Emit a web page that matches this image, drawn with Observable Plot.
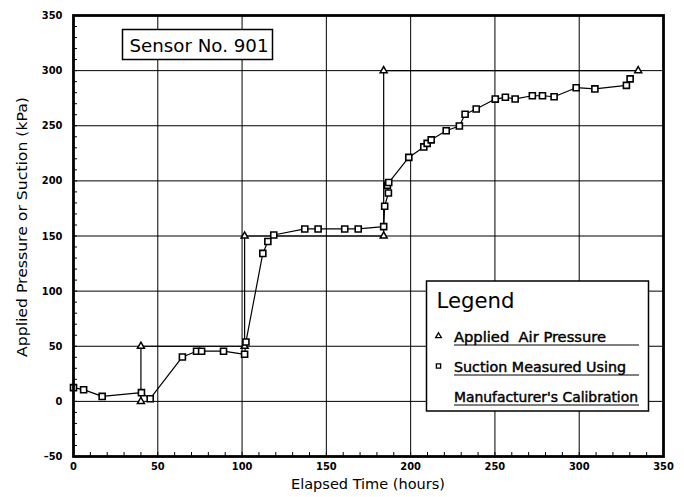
<!DOCTYPE html>
<html>
<head>
<meta charset="utf-8">
<script src="https://cdn.jsdelivr.net/npm/d3@7"></script>
<script src="https://cdn.jsdelivr.net/npm/@observablehq/plot@0.6"></script>
<style>
  body { margin: 0; background: #fff; }
  #chart { width: 684px; height: 497px; }
  #chart g[aria-label="x-axis tick label"] text,
  #chart g[aria-label="y-axis tick label"] text { font-weight: bold; }
</style>
</head>
<body>
<div id="chart"></div>
<script>
// ---- data ----
const suctionTime = [0, 6, 17, 40.3, 45.5, 64.6, 73, 76, 89, 101.5, 102.3, 112.3, 115.3, 118.8,
  137.2, 145.1, 160.9, 168.9, 184, 184.6, 186.8, 186.2, 187, 198.9, 207.8, 209.8, 212.2, 221.1,
  228.9, 232.3, 238.9, 250.2, 256.2, 262, 272.2, 278.2, 285.1, 298.2, 309.3, 328, 330.2];
const suctionKPa = [12.5, 10.6, 4.5, 7.9, 2.4, 40.3, 45.5, 45.5, 45.5, 42.7, 53.9, 134.2, 145, 150.9,
  156.4, 156.4, 156.4, 156.4, 158.5, 177, 189, 196, 198.5, 221.3, 230.8, 234, 237.2, 245.5,
  249.8, 260.4, 265.2, 274.2, 275.8, 274.3, 277.2, 277.2, 276.3, 284.5, 283.4, 286.6, 292.5];
const airTime = [40, 40, 101.5, 101.5, 184, 184, 335];
const airKPa = [0, 50, 50, 150, 150, 300, 300];

const xTicks = [0, 50, 100, 150, 200, 250, 300, 350];
const yTicks = [-50, 0, 50, 100, 150, 200, 250, 300, 350];
const xMinor = d3.range(0, 351, 10);
const yMinor = d3.range(-50, 351, 10);

const xTitle = "Elapsed Time (hours)";
const yTitle = "Applied Pressure or Suction (kPa)";
const sensorLabel = "Sensor No. 901";
const legendTitle = "Legend";
const legendAir = "Applied  Air Pressure";
const legendSuction1 = "Suction Measured Using";
const legendSuction2 = "Manufacturer's Calibration";

const suction = suctionTime.map((t, i) => ({t, v: suctionKPa[i]}));
const air = airTime.map((t, i) => ({t, v: airKPa[i]}));

const W = 684, H = 497, mL = 73, mR = 21, mT = 15, mB = 41;
const pw = W - mL - mR, ph = H - mT - mB;

const plot = Plot.plot({
  width: W, height: H,
  marginLeft: mL, marginRight: mR, marginTop: mT, marginBottom: mB,
  x: {domain: [0, 350]},
  y: {domain: [-50, 350]},
  style: {fontFamily: "'DejaVu Sans Condensed', 'DejaVu Sans', sans-serif", fontSize: "11px", color: "black", background: "white"},
  marks: [
    Plot.gridX(xTicks, {stroke: "black", strokeOpacity: 1, strokeWidth: 1}),
    Plot.gridY(yTicks, {stroke: "black", strokeOpacity: 1, strokeWidth: 1}),
    Plot.ruleX(xMinor, {stroke: "black", strokeWidth: 1, insetTop: ph - 4}),
    Plot.ruleY(yMinor, {stroke: "black", strokeWidth: 1, insetRight: pw - 4}),
    Plot.axisX(xTicks, {tickSize: 0, tickPadding: 6, label: null}),
    Plot.axisY(yTicks, {tickSize: 0, tickPadding: 11, label: null, tickFormat: d => d < 0 ? "\u2013" + Math.abs(d) : String(d)}),
    Plot.line(air, {x: "t", y: "v", stroke: "black", strokeWidth: 1.2}),
    Plot.line(suction, {x: "t", y: "v", stroke: "black", strokeWidth: 1.2}),
    Plot.dot(air, {x: "t", y: "v", symbol: "triangle", r: 2.6, stroke: "black", fill: "white", strokeWidth: 1.5}),
    Plot.dot(suction, {x: "t", y: "v", symbol: "square", r: 3.4, stroke: "black", fill: "white", strokeWidth: 1.6}),
    Plot.frame({stroke: "black", strokeWidth: 2.8})
  ]
});
document.getElementById("chart").append(plot);

// ---- annotations ----
const svg = d3.select(plot);
const font = "'DejaVu Sans Condensed', 'DejaVu Sans', sans-serif";

// axis titles
svg.append("text").attr("x", 368).attr("y", 489).attr("text-anchor", "middle")
  .attr("font-family", font).attr("font-size", 14).attr("textLength", 154).attr("lengthAdjust", "spacingAndGlyphs")
  .text(xTitle);
svg.append("text").attr("transform", "translate(27,227) rotate(-90)").attr("text-anchor", "middle")
  .attr("font-family", font).attr("font-size", 14).attr("textLength", 260).attr("lengthAdjust", "spacingAndGlyphs")
  .text(yTitle);

// sensor box
const sg = svg.append("g");
sg.append("rect").attr("x", 122.5).attr("y", 29.5).attr("width", 150).attr("height", 30)
  .attr("fill", "white").attr("stroke", "black").attr("stroke-width", 1.5);
sg.append("text").attr("x", 129.5).attr("y", 52).attr("text-anchor", "start").attr("font-family", font).attr("font-size", 18)
  .attr("textLength", 139).attr("lengthAdjust", "spacingAndGlyphs").text(sensorLabel);

// legend box
const lg = svg.append("g");
lg.append("rect").attr("x", 426.5).attr("y", 281).attr("width", 222).attr("height", 130)
  .attr("fill", "white").attr("stroke", "black").attr("stroke-width", 1.5);
lg.append("text").attr("x", 436.5).attr("y", 308).attr("text-anchor", "start").attr("font-family", font).attr("font-size", 21)
  .attr("textLength", 78).attr("lengthAdjust", "spacingAndGlyphs").text(legendTitle);
const entries = [
  {text: legendAir, y: 341.7, len: 152},
  {text: legendSuction1, y: 371.7, len: 172},
  {text: legendSuction2, y: 401.7, len: 184}
];
entries.forEach(e => {
  lg.append("text").attr("x", 454).attr("y", e.y).attr("text-anchor", "start").attr("font-family", font).attr("font-size", 14)
    .attr("stroke", "black").attr("stroke-width", 0.4)
    .attr("textLength", e.len).attr("lengthAdjust", "spacingAndGlyphs").text(e.text);
  lg.append("line").attr("x1", 454).attr("x2", 639).attr("y1", e.y + 3.3).attr("y2", e.y + 3.3)
    .attr("stroke", "black").attr("stroke-width", 1.2);
});
lg.append("path").attr("d", d3.symbol(d3.symbolTriangle, 14)()).attr("transform", "translate(438.5,336)")
  .attr("fill", "white").attr("stroke", "black").attr("stroke-width", 1.3);
lg.append("path").attr("d", d3.symbol(d3.symbolSquare, 18)()).attr("transform", "translate(438.5,366)")
  .attr("fill", "white").attr("stroke", "black").attr("stroke-width", 1.3);
</script>
</body>
</html>
